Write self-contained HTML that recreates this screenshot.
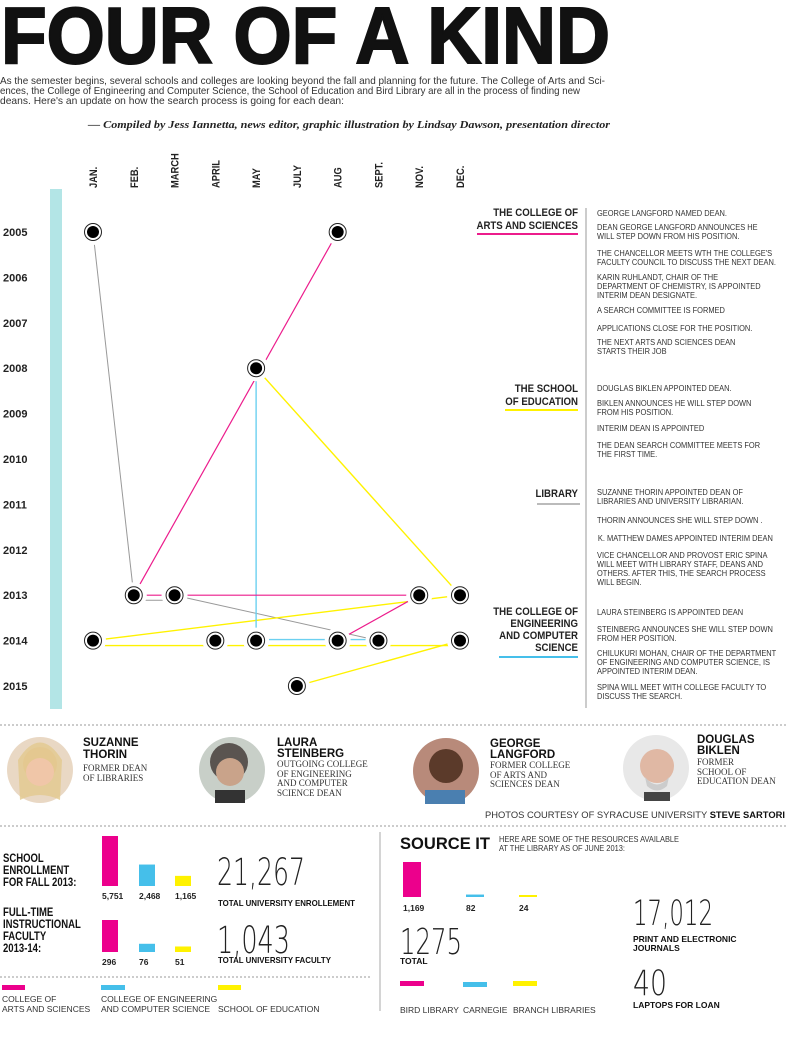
<!DOCTYPE html>
<html><head><meta charset="utf-8"><style>
html,body{margin:0;padding:0;background:#fff;}
svg{display:block;}
.cn{font-family:"Liberation Sans Narrow","Liberation Sans",sans-serif;}
.b{font-weight:bold;}
.ev{font-family:"Liberation Sans",sans-serif;font-size:8.3px;fill:#333;}
.hd{font-family:"Liberation Sans",sans-serif;font-size:11.5px;font-weight:bold;fill:#222;}
.srf{font-family:"Liberation Serif",serif;font-size:9px;fill:#333;}
.big{font-family:"DejaVu Sans ExtraLight","DejaVu Sans","Liberation Sans",sans-serif;font-weight:200;fill:#222;}
</style></head><body>
<svg id="page" width="810" height="1052" viewBox="0 0 810 1052" xmlns="http://www.w3.org/2000/svg">
<text x="1" y="63" font-family="'Liberation Sans',sans-serif" font-weight="bold" font-size="80" fill="#111" stroke="#111" stroke-width="2" textLength="609" lengthAdjust="spacingAndGlyphs">FOUR OF A KIND</text>
<g class="cn" font-size="10.5" fill="#333">
<text x="0" y="84" textLength="605" lengthAdjust="spacingAndGlyphs">As the semester begins, several schools and colleges are looking beyond the fall and planning for the future. The College of Arts and Sci-</text>
<text x="0" y="94" textLength="580" lengthAdjust="spacingAndGlyphs">ences, the College of Engineering and Computer Science, the School of Education and Bird Library are all in the process of finding new</text>
<text x="0" y="104" textLength="344" lengthAdjust="spacingAndGlyphs">deans. Here's an update on how the search process is going for each dean:</text>
</g>
<text x="88" y="128" font-family="'Liberation Serif',serif" font-style="italic" font-weight="bold" font-size="10.5" fill="#222" textLength="522" lengthAdjust="spacingAndGlyphs">— Compiled by Jess Iannetta, news editor, graphic illustration by Lindsay Dawson, presentation director</text>

<rect x="50" y="189" width="12" height="520" fill="#b3e5e6"/>
<g id="chart"></g>

<line x1="586" y1="208" x2="586" y2="708" stroke="#aaa" stroke-width="1.2"/>
<g text-anchor="end">
<g transform="translate(578,0) scale(0.84,1)">
<text class="hd" x="0" y="216">THE COLLEGE OF</text><text class="hd" x="0" y="229">ARTS AND SCIENCES</text>
<text class="hd" x="0" y="392">THE SCHOOL</text><text class="hd" x="0" y="405">OF EDUCATION</text>
<text class="hd" x="0" y="497">LIBRARY</text>
<text class="hd" x="0" y="615">THE COLLEGE OF</text><text class="hd" x="0" y="627">ENGINEERING</text><text class="hd" x="0" y="639">AND COMPUTER</text><text class="hd" x="0" y="651">SCIENCE</text>
</g>
<rect x="477" y="233" width="101" height="2" fill="#ec1c8c"/>
<rect x="505" y="409" width="73" height="2" fill="#fff200"/>
<rect x="537" y="503" width="43" height="2" fill="#bbb"/>
<rect x="499" y="656" width="79" height="2" fill="#45bfea"/>
</g>
<g transform="translate(597,0) scale(0.9,1)">
<text class="ev" x="0" y="216">GEORGE LANGFORD NAMED DEAN.</text>
<text class="ev" x="0" y="230">DEAN GEORGE LANGFORD ANNOUNCES HE</text><text class="ev" x="0" y="239">WILL STEP DOWN FROM HIS POSITION.</text>
<text class="ev" x="0" y="256">THE CHANCELLOR MEETS WTH THE COLLEGE'S</text><text class="ev" x="0" y="265">FACULTY COUNCIL TO DISCUSS THE NEXT DEAN.</text>
<text class="ev" x="0" y="280">KARIN RUHLANDT, CHAIR OF THE</text><text class="ev" x="0" y="289">DEPARTMENT OF CHEMISTRY, IS APPOINTED</text><text class="ev" x="0" y="298">INTERIM DEAN DESIGNATE.</text>
<text class="ev" x="0" y="313">A SEARCH COMMITTEE IS FORMED</text>
<text class="ev" x="0" y="331">APPLICATIONS CLOSE FOR THE POSITION.</text>
<text class="ev" x="0" y="345">THE NEXT ARTS AND SCIENCES DEAN</text><text class="ev" x="0" y="354">STARTS THEIR JOB</text>
<text class="ev" x="0" y="391">DOUGLAS BIKLEN APPOINTED DEAN.</text>
<text class="ev" x="0" y="406">BIKLEN ANNOUNCES HE WILL STEP DOWN</text><text class="ev" x="0" y="415">FROM HIS POSITION.</text>
<text class="ev" x="0" y="431">INTERIM DEAN IS APPOINTED</text>
<text class="ev" x="0" y="448">THE DEAN SEARCH COMMITTEE MEETS FOR</text><text class="ev" x="0" y="457">THE FIRST TIME.</text>
<text class="ev" x="0" y="495">SUZANNE THORIN APPOINTED DEAN OF</text><text class="ev" x="0" y="504">LIBRARIES AND UNIVERSITY LIBRARIAN.</text>
<text class="ev" x="0" y="523">THORIN ANNOUNCES SHE WILL STEP DOWN .</text>
<text class="ev" x="1" y="541">K. MATTHEW DAMES APPOINTED INTERIM DEAN</text>
<text class="ev" x="0" y="558">VICE CHANCELLOR AND PROVOST ERIC SPINA</text><text class="ev" x="0" y="567">WILL MEET WITH LIBRARY STAFF, DEANS AND</text><text class="ev" x="0" y="576">OTHERS. AFTER THIS, THE SEARCH PROCESS</text><text class="ev" x="0" y="585">WILL BEGIN.</text>
<text class="ev" x="0" y="615">LAURA STEINBERG IS APPOINTED DEAN</text>
<text class="ev" x="0" y="632">STEINBERG ANNOUNCES SHE WILL STEP DOWN</text><text class="ev" x="0" y="641">FROM HER POSITION.</text>
<text class="ev" x="0" y="656">CHILUKURI MOHAN, CHAIR OF THE DEPARTMENT</text><text class="ev" x="0" y="665">OF ENGINEERING AND COMPUTER SCIENCE, IS</text><text class="ev" x="0" y="674">APPOINTED INTERIM DEAN.</text>
<text class="ev" x="0" y="690">SPINA WILL MEET WITH COLLEGE FACULTY TO</text><text class="ev" x="0" y="699">DISCUSS THE SEARCH.</text>
</g>

<line x1="0" y1="725" x2="786" y2="725" stroke="#999" stroke-dasharray="2,2"/>
<line x1="0" y1="826" x2="786" y2="826" stroke="#999" stroke-dasharray="2,2"/>
<g>
<g><circle cx="40" cy="770" r="33" fill="#e9d8c4"/><circle cx="40" cy="764" r="17" fill="#e8c098"/><path d="M18 760 Q40 725 62 760 L60 800 Q40 790 20 800Z" fill="#e2c98e" opacity="0.8"/><circle cx="40" cy="772" r="14" fill="#f0c6a8"/></g>
<g><circle cx="232" cy="770" r="33" fill="#c8cfc8"/><circle cx="229" cy="762" r="19" fill="#5a5450"/><circle cx="230" cy="772" r="14" fill="#c9a38a"/><rect x="215" y="790" width="30" height="13" fill="#333"/></g>
<g><circle cx="446" cy="771" r="33" fill="#b88a7a"/><circle cx="446" cy="766" r="17" fill="#5b3a2a"/><rect x="425" y="790" width="40" height="14" fill="#4a7fb0"/></g>
<g><circle cx="656" cy="768" r="33" fill="#e8e8e8"/><circle cx="657" cy="766" r="17" fill="#e0b8a4"/><path d="M645 777 Q657 792 669 777 L667 786 Q657 795 647 786Z" fill="#ccc"/><rect x="644" y="792" width="26" height="9" fill="#444"/></g>
</g>
<g class="cn b" font-size="11.5" fill="#111">
<text x="83" y="746">SUZANNE</text><text x="83" y="758">THORIN</text>
<text x="277" y="746">LAURA</text><text x="277" y="757">STEINBERG</text>
<text x="490" y="747">GEORGE</text><text x="490" y="758">LANGFORD</text>
<text x="697" y="743">DOUGLAS</text><text x="697" y="754">BIKLEN</text>
</g>
<g>
<text class="srf" x="83" y="771">FORMER DEAN</text><text class="srf" x="83" y="781">OF LIBRARIES</text>
<text class="srf" x="277" y="767">OUTGOING COLLEGE</text><text class="srf" x="277" y="777">OF ENGINEERING</text><text class="srf" x="277" y="786">AND COMPUTER</text><text class="srf" x="277" y="796">SCIENCE DEAN</text>
<text class="srf" x="490" y="768">FORMER COLLEGE</text><text class="srf" x="490" y="778">OF ARTS AND</text><text class="srf" x="490" y="787">SCIENCES DEAN</text>
<text class="srf" x="697" y="765">FORMER</text><text class="srf" x="697" y="775">SCHOOL OF</text><text class="srf" x="697" y="784">EDUCATION DEAN</text>
</g>
<text x="785" y="818" text-anchor="end" class="cn" font-size="9.5" fill="#333" textLength="300" lengthAdjust="spacingAndGlyphs">PHOTOS COURTESY OF SYRACUSE UNIVERSITY <tspan font-weight="bold" fill="#111">STEVE SARTORI</tspan></text>

<g class="cn b" font-size="11.5" fill="#111" transform="translate(3,0) scale(0.83,1)">
<text x="0" y="862">SCHOOL</text><text x="0" y="874">ENROLLMENT</text><text x="0" y="886">FOR FALL 2013:</text>
<text x="0" y="916">FULL-TIME</text><text x="0" y="928">INSTRUCTIONAL</text><text x="0" y="940">FACULTY</text><text x="0" y="952">2013-14:</text>
</g>
<g id="bars"></g>
<text class="big" x="217" y="885" font-size="37" textLength="88" lengthAdjust="spacingAndGlyphs">21,267</text>
<text x="218" y="906" class="cn b" font-size="8.5" fill="#111" textLength="137" lengthAdjust="spacingAndGlyphs">TOTAL UNIVERSITY ENROLLEMENT</text>
<text class="big" x="217" y="953" font-size="37" textLength="73" lengthAdjust="spacingAndGlyphs">1,043</text>
<text x="218" y="963" class="cn b" font-size="8.5" fill="#111" textLength="113" lengthAdjust="spacingAndGlyphs">TOTAL UNIVERSITY FACULTY</text>
<line x1="0" y1="977" x2="372" y2="977" stroke="#999" stroke-dasharray="2,2"/>
<g>
<rect x="2" y="985" width="23" height="5" fill="#ec008c"/><rect x="101" y="985" width="24" height="5" fill="#45bfea"/><rect x="218" y="985" width="23" height="5" fill="#fff200"/>
<g class="cn" font-size="8.5" fill="#333"><text x="2" y="1002">COLLEGE OF</text><text x="2" y="1012">ARTS AND SCIENCES</text>
<text x="101" y="1002">COLLEGE OF ENGINEERING</text><text x="101" y="1012">AND COMPUTER SCIENCE</text><text x="218" y="1012">SCHOOL OF EDUCATION</text></g>
</g>
<line x1="380" y1="832" x2="380" y2="1011" stroke="#aaa" stroke-width="1"/>
<text x="400" y="849" font-family="'Liberation Sans',sans-serif" font-weight="bold" font-size="17" fill="#111" textLength="90" lengthAdjust="spacingAndGlyphs">SOURCE IT</text>
<g class="cn" font-size="8.3" fill="#333"><text x="499" y="842" textLength="180" lengthAdjust="spacingAndGlyphs">HERE ARE SOME OF THE RESOURCES AVAILABLE</text><text x="499" y="851" textLength="126" lengthAdjust="spacingAndGlyphs">AT THE LIBRARY AS OF JUNE 2013:</text></g>
<text class="big" x="400" y="954" font-size="36" textLength="62" lengthAdjust="spacingAndGlyphs">1275</text>
<text x="400" y="964" class="cn b" font-size="8.5" fill="#111">TOTAL</text>
<g>
<rect x="400" y="981" width="24" height="5" fill="#ec008c"/><rect x="463" y="982" width="24" height="5" fill="#45bfea"/><rect x="513" y="981" width="24" height="5" fill="#fff200"/>
<g class="cn" font-size="8.5" fill="#333"><text x="400" y="1013">BIRD LIBRARY</text><text x="463" y="1013">CARNEGIE</text><text x="513" y="1013">BRANCH LIBRARIES</text></g>
</g>
<text class="big" x="633" y="925" font-size="35" textLength="80" lengthAdjust="spacingAndGlyphs">17,012</text>
<g class="cn b" font-size="8.5" fill="#111"><text x="633" y="942">PRINT AND ELECTRONIC</text><text x="633" y="951">JOURNALS</text></g>
<text class="big" x="633" y="995" font-size="35" textLength="34" lengthAdjust="spacingAndGlyphs">40</text>
<text x="633" y="1008" class="cn b" font-size="8.5" fill="#111">LAPTOPS FOR LOAN</text>
</svg>
<script>
const months = ["JAN.","FEB.","MARCH","APRIL","MAY","JULY","AUG","SEPT.","NOV.","DEC."];
const years = [2005,2006,2007,2008,2009,2010,2011,2012,2013,2014,2015];
const eventMonths = ["JAN.","AUG","MAY","FEB.","MARCH","NOV.","DEC.","JAN.","APRIL","MAY","AUG","SEPT.","DEC.","JULY"];
const eventYears = [2005,2005,2008,2013,2013,2013,2013,2014,2014,2014,2014,2014,2014,2015];
const grayLinks = [[0,3],[3,4],[4,11]];
const pinkLinks = [[1,3],[3,5],[5,10]];
const blueLinks = [[2,9],[9,10],[10,11]];
const yellowLinks = [[2,6],[6,7],[7,8],[8,9],[9,12],[12,13]];

const enrollCats = ["Arts and Sciences","Engineering","Education"];
const enrollVals = [5751,2468,1165];
const enrollLabels = ["5,751","2,468","1,165"];
const facultyVals = [296,76,51];
const facultyLabels = ["296","76","51"];
const libraryCats = ["Bird Library","Carnegie","Branch Libraries"];
const libraryVals = [1169,82,24];
const libraryLabels = ["1,169","82","24"];

const NS="http://www.w3.org/2000/svg";
function mk(tag, attrs, parent){const e=document.createElementNS(NS,tag);for(const k in attrs)e.setAttribute(k,attrs[k]);parent.appendChild(e);return e;}
const xMonth = m => 93 + months.indexOf(m) * (367/9);
const yYear = y => 232 + (y - 2005) * 45.4;
const chart=document.getElementById('chart');

months.forEach(m=>{
  const x=xMonth(m);
  const t=mk('text',{x:0,y:0,transform:`translate(${x+4},188) rotate(-90) scale(0.85,1)`,'font-family':"'Liberation Sans',sans-serif",'font-weight':'bold','font-size':'11',fill:'#222'},chart);
  t.textContent=m;
  
  
});
years.forEach(y=>{
  const t=mk('text',{x:3,y:yYear(y)+4,'font-family':"'Liberation Sans',sans-serif",'font-weight':'bold','font-size':'11',fill:'#222'},chart);
  t.textContent=y;
  
  
});
const pt = i => [xMonth(eventMonths[i]), yYear(eventYears[i])];
function drawLinks(links,color,w,name,rowOff){
  links.forEach(([a,b])=>{
    const [x1,y1]=pt(a),[x2,y2]=pt(b);
    const sameRow = eventYears[a]===eventYears[b];
    const off = sameRow ? rowOff : 0;
    const l=mk('line',{x1,y1:y1+off,x2,y2:y2+off,stroke:color,'stroke-width':w},chart);
    
    
  });
}
drawLinks(grayLinks,'#999',1,'library-line',5);
drawLinks(yellowLinks,'#fff200',1.4,'education-line',5);
drawLinks(blueLinks,'#6cd0f0',1.4,'engineering-line',-1);
drawLinks(pinkLinks,'#ec1c8c',1.2,'arts-sciences-line',0);
eventMonths.forEach((m,i)=>{
  const [x,y]=pt(i);
  const g=mk('g',{},chart);
  
  
  mk('circle',{cx:x,cy:y,r:13,fill:'#fff'},g);
  mk('circle',{cx:x,cy:y,r:8.5,fill:'#fff',stroke:'#222','stroke-width':1},g);
  mk('circle',{cx:x,cy:y,r:6,fill:'#000'},g);
});

const bars=document.getElementById('bars');
const colors=['#ec008c','#45bfea','#fff200'];
function barSet(vals,labels,xs,w,base,scale,labelY,name){
  vals.forEach((v,i)=>{
    const h=Math.max(2,v*scale);
    const r=mk('rect',{x:xs[i],y:base-h,width:w,height:h,fill:colors[i]},bars);
    
    
    const t=mk('text',{x:xs[i],y:labelY,'font-family':"'Liberation Sans',sans-serif",'font-weight':'bold','font-size':'8.5',fill:'#222'},bars);
    t.textContent=labels[i];
    
    
  });
}
barSet(enrollVals,enrollLabels,[102,139,175],16,886,50/5751,899,'enrollment');
barSet(facultyVals,facultyLabels,[102,139,175],16,952,32/296,965,'faculty');
barSet(libraryVals,libraryLabels,[403,466,519],18,897,35/1169,911,'library');
</script>
</body></html>
